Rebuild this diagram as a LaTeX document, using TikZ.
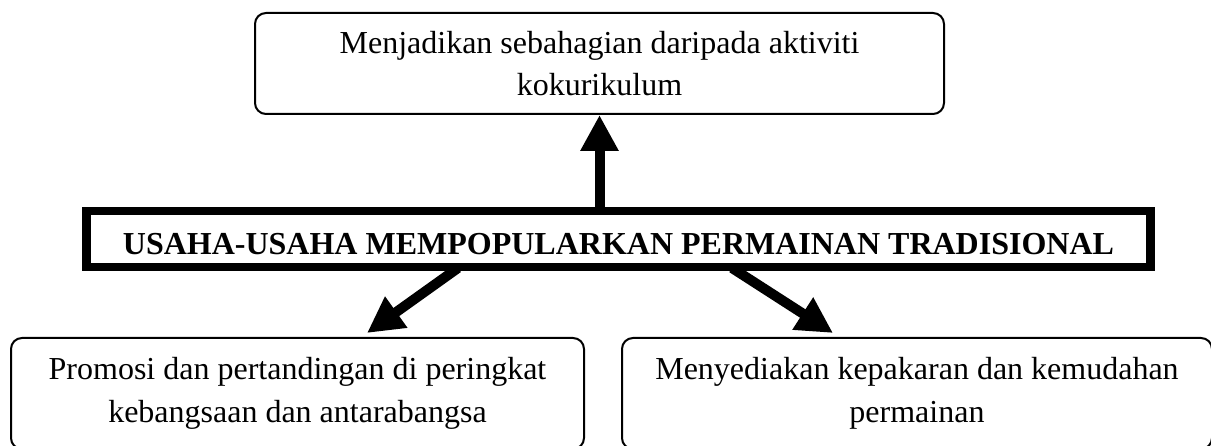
\documentclass[tikz,border=0pt]{standalone}
\usepackage{fontspec}
\setmainfont{Liberation Serif}
\usetikzlibrary{positioning,arrows.meta}

\begin{document}
\begin{tikzpicture}[x=1pt,y=1pt]
	\tikzset{>={Triangle[length=36pt,width=36pt]}}
	\tikzset{idea/.style={draw, line width=2pt, rounded corners=11pt, align=center, inner sep=0pt, font=\fontsize{32}{42.5}\selectfont}}
	\tikzset{bigarrow/.style={->, line width=10pt}}
	\useasboundingbox (0,0) rectangle (1211,446);

	\node[idea, minimum width=689pt, minimum height=101pt] (kokurikulum) at (599.5,382.5) {Menjadikan sebahagian daripada aktiviti\\kokurikulum};
	\node[draw, line width=8.5pt, minimum width=1064pt, minimum height=56pt, inner sep=0pt, text height=32pt, text depth=0pt, font=\fontsize{32}{36}\selectfont\bfseries] (usaha) at (618.5,207) {USAHA-USAHA MEMPOPULARKAN PERMAINAN TRADISIONAL};
	\node[idea, minimum width=573pt, minimum height=111pt] (promosi) at (297.5,52.5) {Promosi dan pertandingan di peringkat\\kebangsaan dan antarabangsa};
	\node[idea, minimum width=590pt, minimum height=111pt] (kepakaran) at (917,52.5) {Menyediakan kepakaran dan kemudahan\\permainan};

	\coordinate (kiri) at (458,178);
	\coordinate (kanan) at (732,178);
	\coordinate (kiri tip) at (367,113);
	\coordinate (kanan tip) at (833,113);
	\draw[bigarrow] (usaha.north -| kokurikulum.south) -- (kokurikulum.south);
	\draw[bigarrow] (kiri) -- (kiri tip);
	\draw[bigarrow] (kanan) -- (kanan tip);
\end{tikzpicture}
\end{document}
